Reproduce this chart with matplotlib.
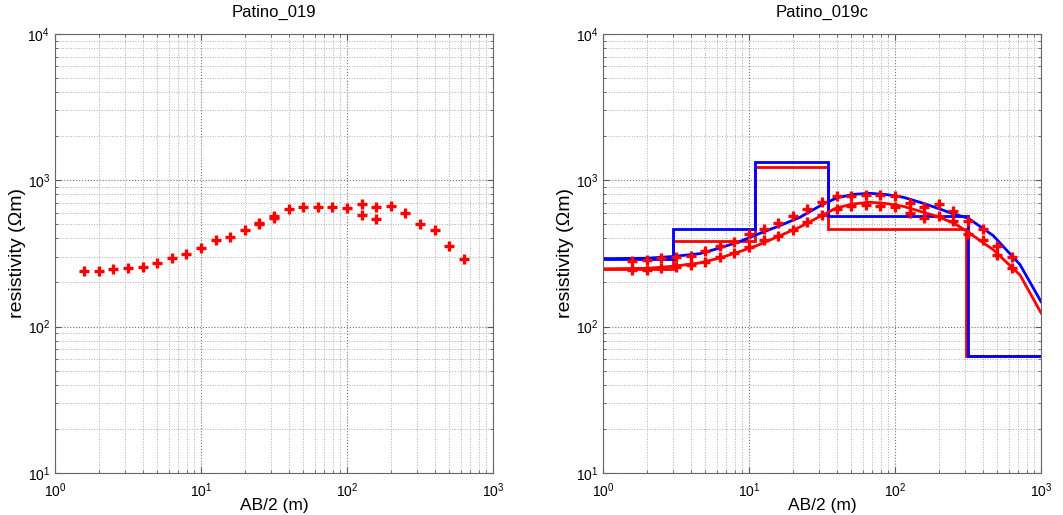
import numpy as np
import matplotlib
matplotlib.use('Agg')
import matplotlib.pyplot as plt

plt.rcParams['font.family'] = ['Liberation Sans', 'DejaVu Sans']

# half electrode spacing AB/2 (m)
ab2 = [1.58, 2.0, 2.51, 3.16, 3.98, 5.01, 6.31, 7.94, 10.0, 12.6, 15.8, 20.0, 25.1,
       31.6, 39.8, 50.1, 63.1, 79.4, 100, 126, 158, 200, 251, 316, 398, 501, 631]
# field apparent resistivity
rho_field = [239, 241, 247, 251, 256, 273, 294, 313, 346, 388, 409, 455, 511,
             566, 637, 658, 653, 653, 643, 692, 658, 671, 598, 500, 455, 353, 291]
# repeated readings (second MN)
ab2_dup = [25.1, 31.6, 126, 158]
rho_dup = [500, 556, 579, 544]

# corrected curves
rho_low = [244, 244, 251, 255, 265, 277, 297, 318, 347, 393, 418, 459, 515,
           582, 637, 663, 682, 671, 658, 598, 552, 566, 524, 430, 393, 310, 251]
rho_high = [279, 286, 294, 299, 305, 330, 353, 380, 430, 467, 511, 573, 637,
            706, 777, 785, 798, 798, 777, 700, 658, 689, 614, 530, 464, 353, 299]

# model responses
blue_x = [1, 2, 3, 4.6, 6.3, 8.7, 11.3, 16.3, 22.3, 31.6, 39.8, 51.8, 67.4, 87.7,
          114, 148, 193, 251, 318, 471, 718, 1000]
blue_y = [291, 293, 301, 315, 344, 382, 425, 490, 558, 680, 757, 801, 814, 798,
          765, 707, 647, 589, 550, 418, 265, 148]
red_x = [1, 2, 3, 4.6, 6.3, 8.7, 11.3, 16.3, 22.3, 31.6, 39.8, 51.8, 67.4, 87.7,
         114, 148, 193, 251, 306, 471, 718, 1000]
red_y = [248, 250, 258, 272, 294, 326, 357, 418, 479, 575, 647, 689, 707, 692,
         663, 614, 567, 511, 452, 335, 225, 124]

# layered models (layer boundaries and resistivities)
blue_edges = [1, 3.0, 11.0, 34.9, 318, 1000]
blue_rho = [291, 464, 1336, 566, 62.4]
red_edges = [1, 3.0, 11.0, 34.9, 305, 1000]
red_rho = [248, 387, 1236, 464, 62.4]


def style(ax, title):
    ax.set_xscale('log')
    ax.set_yscale('log')
    ax.set_xlim(1, 1000)
    ax.set_ylim(10, 10000)
    ax.grid(True, which='major', linestyle=':', color='0.45', linewidth=0.8)
    ax.grid(True, which='minor', linestyle=':', color='0.68', linewidth=0.7)
    ax.tick_params(which='both', direction='in', top=True, right=True, color='0.35')
    ax.tick_params(which='major', length=4, labelsize=10)
    ax.tick_params(axis='x', which='major', pad=6)
    ax.tick_params(which='minor', length=2)
    for s in ax.spines.values():
        s.set_color('0.4')
    ax.set_title(title, fontsize=12, pad=12)
    ax.set_xlabel('AB/2 (m)', fontsize=12.5, labelpad=-1)
    ax.set_ylabel('resistivity (\u03a9m)', fontsize=14, labelpad=1)
    ax.set_axisbelow(True)


fig = plt.figure(figsize=(10.63, 5.15), dpi=100)
ax1 = fig.add_axes([0.0517, 0.082, 0.412, 0.852])
ax2 = fig.add_axes([0.5673, 0.082, 0.412, 0.852])

mk = dict(marker='+', color='red', linestyle='none', markersize=6.5, markeredgewidth=2.4)

style(ax1, 'Patino_019')
ax1.plot(ab2, rho_field, **mk)
ax1.plot(ab2_dup, rho_dup, **mk)

style(ax2, 'Patino_019c')
ax2.stairs(red_rho, red_edges, baseline=None, color='red', linewidth=2)
ax2.stairs(blue_rho, blue_edges, baseline=None, color='blue', linewidth=2)
ax2.plot(red_x, red_y, color='red', linewidth=2)
ax2.plot(blue_x, blue_y, color='blue', linewidth=2)
ax2.plot(ab2, rho_low, **mk)
ax2.plot(ab2, rho_high, **mk)

fig.savefig('out.png', dpi=100)
